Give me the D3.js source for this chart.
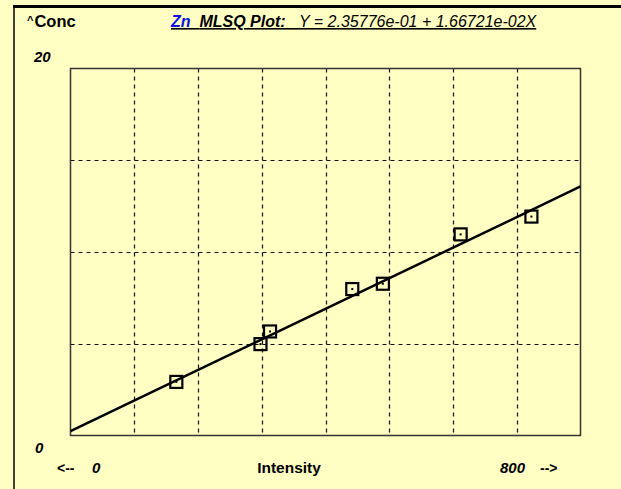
<!DOCTYPE html>
<html><head><meta charset="utf-8">
<script src="https://cdn.jsdelivr.net/npm/d3@7"></script>
<style>
html,body{margin:0;padding:0;background:#FFFFC4;}
svg{display:block;}
</style></head>
<body>
<script>
// Data
const intensity = [166, 298, 313, 442, 490, 612, 723];
const conc = [2.92, 4.98, 5.67, 7.98, 8.27, 10.96, 11.93];
const fitX = [0, 800];
const fitY = [0.236, 13.57];
const xTickLabels = ["0", "800"];
const yTickLabels = ["0", "20"];
const xDomain = [0, 800];
const yDomain = [0, 20];
const element = "Zn";
const titleMain = "MLSQ Plot:";
const equation = "Y = 2.35776e-01 + 1.66721e-02X";

const W = 621, H = 489;
const svg = d3.select("body").append("svg").attr("width", W).attr("height", H);
svg.append("rect").attr("width", W).attr("height", H).attr("fill", "#FFFFC4");
// outer frame
svg.append("line").attr("x1", 13).attr("x2", W).attr("y1", 6.5).attr("y2", 6.5).attr("stroke", "#000").attr("stroke-width", 3);
svg.append("line").attr("x1", 14).attr("x2", 14).attr("y1", 5).attr("y2", H).attr("stroke", "#000").attr("stroke-width", 1.5);

const L = 70.5, R = 580.5, T = 68.5, B = 435.5;
const x = d3.scaleLinear().domain(xDomain).range([L, R]);
const y = d3.scaleLinear().domain(yDomain).range([B, T]);

// grid
const gx = d3.range(1, 8).map(i => xDomain[0] + i * (xDomain[1] - xDomain[0]) / 8);
const gy = d3.range(1, 4).map(i => yDomain[0] + i * (yDomain[1] - yDomain[0]) / 4);
const grid = svg.append("g").attr("stroke", "#111").attr("stroke-width", 1.2).attr("stroke-dasharray", "4,4");
grid.selectAll(".vx").data(gx).join("line")
  .attr("x1", d => Math.round(x(d)) + 0.5).attr("x2", d => Math.round(x(d)) + 0.5)
  .attr("y1", T).attr("y2", B);
grid.selectAll(".hy").data(gy).join("line")
  .attr("y1", d => Math.round(y(d)) + 0.5).attr("y2", d => Math.round(y(d)) + 0.5)
  .attr("x1", L).attr("x2", R);

// plot border
svg.append("rect").attr("x", L).attr("y", T).attr("width", R - L).attr("height", B - T)
  .attr("fill", "none").attr("stroke", "#333").attr("stroke-width", 1.5);

// fit line
svg.append("path").datum(d3.zip(fitX, fitY))
  .attr("d", d3.line().x(d => x(d[0])).y(d => y(d[1])))
  .attr("stroke", "#000").attr("stroke-width", 2.5).attr("fill", "none");

// points
const pts = svg.append("g").selectAll("g").data(d3.zip(intensity, conc)).join("g")
  .attr("transform", d => `translate(${x(d[0])},${y(d[1])})`);
pts.append("rect").attr("x", -6).attr("y", -6).attr("width", 12).attr("height", 12)
  .attr("fill", "none").attr("stroke", "#000").attr("stroke-width", 2.2);
pts.append("rect").attr("x", -1).attr("y", -1).attr("width", 2).attr("height", 2).attr("fill", "#000");

// texts
const font = "'Liberation Sans',Arial,sans-serif";
svg.append("text").attr("x", 27).attr("y", 27).attr("font-family", font).attr("font-weight", "bold")
  .attr("font-size", 16.5).attr("fill", "#000")
  .call(t => { t.append("tspan").attr("font-size", 11).attr("dy", -3).text("^"); t.append("tspan").attr("dy", 3).attr("dx", 1).text("Conc"); });

const title = svg.append("text").attr("x", 171).attr("y", 27).attr("font-family", font).attr("font-size", 16)
  .attr("text-decoration", "underline").style("white-space", "pre");
title.append("tspan").attr("fill", "#1010E0").attr("font-weight", "bold").attr("font-style", "italic").text(element + "  ");
title.append("tspan").attr("fill", "#000").attr("font-weight", "bold").attr("font-style", "italic").text(titleMain + "   ");
title.append("tspan").attr("fill", "#000").attr("font-style", "italic").text(equation);

svg.append("text").attr("x", 34).attr("y", 62).attr("font-family", font).attr("font-weight", "bold").attr("font-style", "italic")
  .attr("font-size", 15).text(yTickLabels[1]);
svg.append("text").attr("x", 35).attr("y", 453).attr("font-family", font).attr("font-weight", "bold").attr("font-style", "italic")
  .attr("font-size", 15).text(yTickLabels[0]);

const by = 473;
svg.append("text").attr("x", 57).attr("y", by).attr("font-family", font).attr("font-weight", "bold").attr("font-size", 14).text("<--");
svg.append("text").attr("x", 92).attr("y", by).attr("font-family", font).attr("font-weight", "bold").attr("font-style", "italic").attr("font-size", 15).text(xTickLabels[0]);
svg.append("text").attr("x", 289).attr("y", by).attr("text-anchor", "middle").attr("font-family", font).attr("font-weight", "bold").attr("font-size", 15.5).text("Intensity");
svg.append("text").attr("x", 500).attr("y", by).attr("font-family", font).attr("font-weight", "bold").attr("font-style", "italic").attr("font-size", 15).text(xTickLabels[1]);
svg.append("text").attr("x", 540).attr("y", by).attr("font-family", font).attr("font-weight", "bold").attr("font-size", 14).text("-->");
</script>
</body></html>
